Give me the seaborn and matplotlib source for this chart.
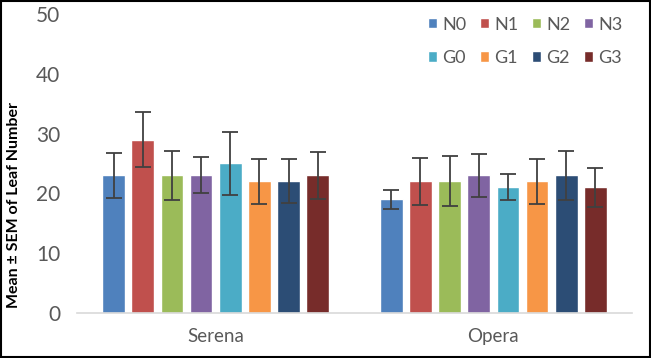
import pandas as pd
import matplotlib
matplotlib.use('Agg')
import matplotlib.pyplot as plt
import seaborn as sns
from matplotlib.patches import Rectangle

# valores
cultivares = ['Serena', 'Opera']
tratamentos = ['N0', 'N1', 'N2', 'N3', 'G0', 'G1', 'G2', 'G3']
media_serena = [23, 29, 23, 23, 25, 22, 22, 23]
media_opera = [19, 22, 22, 23, 21, 22, 23, 21]
sem_serena = [3.8, 4.6, 4.1, 3.0, 5.3, 3.8, 3.7, 3.9]
sem_opera = [1.6, 3.9, 4.2, 3.6, 2.2, 3.8, 4.1, 3.3]
cores = ['#4F81BD', '#C0504D', '#9BBB59', '#8064A2',
         '#4BACC6', '#F79646', '#2C4D75', '#772C2A']

df = pd.DataFrame({
    'Cultivar': ['Serena'] * 8 + ['Opera'] * 8,
    'Tratamento': tratamentos * 2,
    'Media': media_serena + media_opera,
    'SEM': sem_serena + sem_opera,
})

sns.set_style('white')
plt.rcParams['font.family'] = ['Lato', 'DejaVu Sans']

fig = plt.figure(figsize=(6.51, 3.58), dpi=100)
ax = fig.add_axes([0.118, 0.126, 0.853, 0.835])

sns.barplot(df, x='Cultivar', y='Media', hue='Tratamento', order=cultivares,
            hue_order=tratamentos, palette=cores, width=0.84, gap=0.22,
            errorbar=None, legend=False, saturation=1, ax=ax)

barras = list(ax.containers)

# barras de erro (média ± SEM)
for i, cont in enumerate(barras):
    t = tratamentos[i]
    for bar, c in zip(cont.patches, cultivares):
        linha = df[(df['Cultivar'] == c) & (df['Tratamento'] == t)].iloc[0]
        xc = bar.get_x() + bar.get_width() / 2
        ax.errorbar(xc, linha['Media'], yerr=linha['SEM'], color='#404040',
                    capsize=5.5, elinewidth=1.3, capthick=1.3, fmt='none')

handles = [barras[i].patches[0] for i in range(8)]
ordem = [0, 4, 1, 5, 2, 6, 3, 7]
ax.legend([handles[k] for k in ordem], [tratamentos[k] for k in ordem],
          ncol=4, loc='upper right', bbox_to_anchor=(1.012, 1.045),
          frameon=False, fontsize=13, handlelength=0.5, handleheight=0.5,
          handletextpad=0.3, columnspacing=0.75, labelspacing=0.95,
          labelcolor='#595959')

ax.set_ylim(0, 50)
ax.set_yticks(range(0, 51, 10))
ax.set_xlim(-0.5, 1.5)
ax.set_xlabel('')
ax.set_ylabel('Mean ± SEM of Leaf Number', fontsize=11.5, fontweight='bold',
              color='black')
ax.yaxis.set_label_coords(-0.1, 0.36)
ax.tick_params(axis='both', length=0, colors='#595959')
ax.tick_params(axis='x', labelsize=13.5, pad=11)
ax.tick_params(axis='y', labelsize=15, pad=12)
sns.despine(ax=ax, left=True)
ax.spines['bottom'].set_color('#D9D9D9')
ax.spines['bottom'].set_linewidth(1.2)

fig.patches.append(Rectangle((0.002, 0.003), 0.996, 0.994, transform=fig.transFigure,
                             fill=False, edgecolor='black', linewidth=1.5))

fig.savefig('out.png', dpi=100)
